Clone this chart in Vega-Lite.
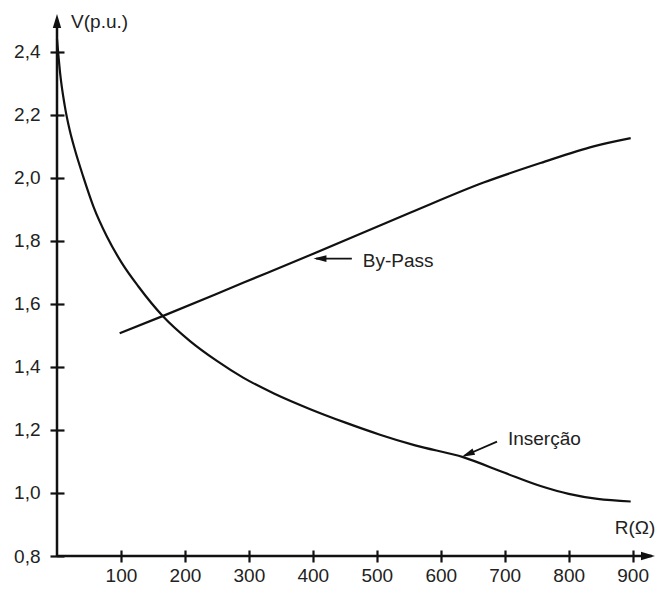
{
  "$schema": "https://vega.github.io/schema/vega-lite/v6.json",
  "width": 598,
  "height": 542,
  "autosize": {"type": "none"},
  "padding": {"left": 57, "top": 14, "right": 4, "bottom": 33},
  "background": "white",
  "config": {
    "view": {"stroke": null},
    "font": "Liberation Sans",
    "axis": {
      "grid": false,
      "domain": false,
      "ticks": true,
      "tickColor": "#111111",
      "tickWidth": 2.2,
      "labelFont": "Liberation Sans",
      "labelFontSize": 19,
      "labelColor": "#222222",
      "labelFlush": false,
      "labelOverlap": false,
      "labelBound": false,
      "title": null
    }
  },
  "datasets": {
    "curves": [
      {"serie": "Inserção", "R": 0, "V": 2.44},
      {"serie": "Inserção", "R": 5, "V": 2.33},
      {"serie": "Inserção", "R": 12, "V": 2.23},
      {"serie": "Inserção", "R": 20, "V": 2.15},
      {"serie": "Inserção", "R": 28, "V": 2.089},
      {"serie": "Inserção", "R": 41, "V": 2.004},
      {"serie": "Inserção", "R": 57, "V": 1.909},
      {"serie": "Inserção", "R": 78, "V": 1.814},
      {"serie": "Inserção", "R": 101, "V": 1.731},
      {"serie": "Inserção", "R": 127, "V": 1.656},
      {"serie": "Inserção", "R": 166, "V": 1.56},
      {"serie": "Inserção", "R": 208, "V": 1.482},
      {"serie": "Inserção", "R": 250, "V": 1.419},
      {"serie": "Inserção", "R": 291, "V": 1.366},
      {"serie": "Inserção", "R": 340, "V": 1.315},
      {"serie": "Inserção", "R": 396, "V": 1.266},
      {"serie": "Inserção", "R": 450, "V": 1.224},
      {"serie": "Inserção", "R": 505, "V": 1.185},
      {"serie": "Inserção", "R": 560, "V": 1.151},
      {"serie": "Inserção", "R": 636, "V": 1.113},
      {"serie": "Inserção", "R": 700, "V": 1.064},
      {"serie": "Inserção", "R": 756, "V": 1.022},
      {"serie": "Inserção", "R": 800, "V": 0.997},
      {"serie": "Inserção", "R": 845, "V": 0.981},
      {"serie": "Inserção", "R": 897, "V": 0.973},
      {"serie": "By-Pass", "R": 98, "V": 1.507},
      {"serie": "By-Pass", "R": 166, "V": 1.562},
      {"serie": "By-Pass", "R": 291, "V": 1.667},
      {"serie": "By-Pass", "R": 396, "V": 1.755},
      {"serie": "By-Pass", "R": 552, "V": 1.889},
      {"serie": "By-Pass", "R": 667, "V": 1.985},
      {"serie": "By-Pass", "R": 756, "V": 2.047},
      {"serie": "By-Pass", "R": 839, "V": 2.1},
      {"serie": "By-Pass", "R": 897, "V": 2.126}
    ],
    "one": [{}]
  },
  "layer": [
    {
      "data": {"name": "curves"},
      "mark": {"type": "line", "interpolate": "monotone", "color": "#111111", "strokeWidth": 2.2},
      "encoding": {
        "x": {
          "field": "R", "type": "quantitative",
          "scale": {"domain": [0, 935], "nice": false, "zero": false},
          "axis": {
            "values": [100, 200, 300, 400, 500, 600, 700, 800, 900],
            "format": "d",
            "offset": -6,
            "tickSize": 12,
            "labelPadding": 4
          }
        },
        "y": {
          "field": "V", "type": "quantitative",
          "scale": {"domain": [0.8, 2.52], "nice": false, "zero": false},
          "axis": {
            "values": [0.8, 1.0, 1.2, 1.4, 1.6, 1.8, 2.0, 2.2, 2.4],
            "labelExpr": "replace(format(datum.value, '.1f'), '.', ',')",
            "offset": -7,
            "tickSize": 14,
            "labelPadding": 10
          }
        },
        "detail": {"field": "serie", "type": "nominal"}
      }
    },
    {
      "data": {"name": "one"},
      "mark": {"type": "rule", "color": "#111111", "strokeWidth": 2.5},
      "encoding": {
        "x": {"datum": 0, "type": "quantitative"},
        "x2": {"datum": 930},
        "y": {"datum": 0.8, "type": "quantitative"},
        "y2": {"datum": 0.8}
      }
    },
    {
      "data": {"name": "one"},
      "mark": {"type": "rule", "color": "#111111", "strokeWidth": 2.5},
      "encoding": {
        "x": {"datum": 0, "type": "quantitative"},
        "x2": {"datum": 0},
        "y": {"datum": 0.8, "type": "quantitative"},
        "y2": {"datum": 2.5}
      }
    },
    {
      "data": {"name": "one"},
      "mark": {"type": "point", "shape": "M0,0L1,-0.3L1,0.3Z", "filled": true, "opacity": 1, "color": "#111111", "size": 784, "angle": 90},
      "encoding": {
        "x": {"datum": 0, "type": "quantitative"},
        "y": {"datum": 2.52, "type": "quantitative"}
      }
    },
    {
      "data": {"name": "one"},
      "mark": {"type": "point", "shape": "M0,0L1,-0.3L1,0.3Z", "filled": true, "opacity": 1, "color": "#111111", "size": 784, "angle": 180},
      "encoding": {
        "x": {"datum": 935, "type": "quantitative"},
        "y": {"datum": 0.8, "type": "quantitative"}
      }
    },
    {
      "data": {"name": "one"},
      "mark": {"type": "rule", "color": "#111111", "strokeWidth": 1.8},
      "encoding": {
        "x": {"datum": 405, "type": "quantitative"},
        "x2": {"datum": 461},
        "y": {"datum": 1.744, "type": "quantitative"},
        "y2": {"datum": 1.744}
      }
    },
    {
      "data": {"name": "one"},
      "mark": {"type": "point", "shape": "M0,0L1,-0.26L1,0.26Z", "filled": true, "opacity": 1, "color": "#111111", "size": 676, "angle": 0},
      "encoding": {
        "x": {"datum": 401, "type": "quantitative"},
        "y": {"datum": 1.744, "type": "quantitative"}
      }
    },
    {
      "data": {"name": "one"},
      "mark": {"type": "rule", "color": "#111111", "strokeWidth": 1.8},
      "encoding": {
        "x": {"datum": 637, "type": "quantitative"},
        "x2": {"datum": 688},
        "y": {"datum": 1.118, "type": "quantitative"},
        "y2": {"datum": 1.163}
      }
    },
    {
      "data": {"name": "one"},
      "mark": {"type": "point", "shape": "M0,0L1,-0.26L1,0.26Z", "filled": true, "opacity": 1, "color": "#111111", "size": 676, "angle": -23},
      "encoding": {
        "x": {"datum": 633, "type": "quantitative"},
        "y": {"datum": 1.115, "type": "quantitative"}
      }
    },
    {
      "data": {"name": "one"},
      "mark": {"type": "text", "align": "left", "baseline": "alphabetic", "fontSize": 19, "color": "#222222"},
      "encoding": {
        "x": {"datum": 478, "type": "quantitative"},
        "y": {"datum": 1.717, "type": "quantitative"},
        "text": {"value": "By-Pass"}
      }
    },
    {
      "data": {"name": "one"},
      "mark": {"type": "text", "align": "left", "baseline": "alphabetic", "fontSize": 19, "color": "#222222"},
      "encoding": {
        "x": {"datum": 705, "type": "quantitative"},
        "y": {"datum": 1.152, "type": "quantitative"},
        "text": {"value": "Inserção"}
      }
    },
    {
      "data": {"name": "one"},
      "mark": {"type": "text", "align": "left", "baseline": "alphabetic", "fontSize": 19, "color": "#222222"},
      "encoding": {
        "x": {"datum": 22, "type": "quantitative"},
        "y": {"datum": 2.475, "type": "quantitative"},
        "text": {"value": "V(p.u.)"}
      }
    },
    {
      "data": {"name": "one"},
      "mark": {"type": "text", "align": "left", "baseline": "alphabetic", "fontSize": 19, "color": "#222222"},
      "encoding": {
        "x": {"datum": 872, "type": "quantitative"},
        "y": {"datum": 0.87, "type": "quantitative"},
        "text": {"value": "R(Ω)"}
      }
    }
  ]
}
